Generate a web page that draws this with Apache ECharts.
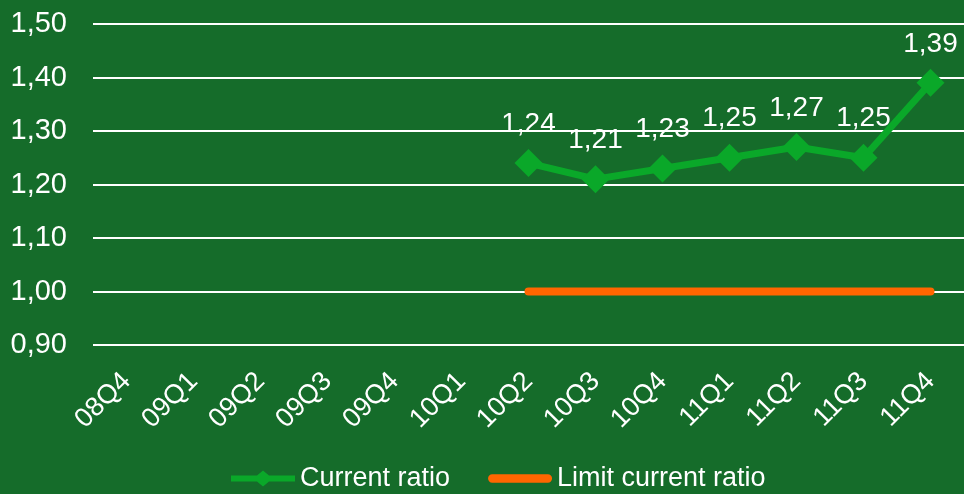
<!DOCTYPE html>
<html><head><meta charset="utf-8">
<script src="https://cdn.jsdelivr.net/npm/echarts@6/dist/echarts.min.js"></script>
<style>html,body{margin:0;padding:0;background:#156c2a;}#c{width:964px;height:494px;}</style>
</head><body><div id="c"></div>
<script>
var categories = ['08Q4','09Q1','09Q2','09Q3','09Q4','10Q1','10Q2','10Q3','10Q4','11Q1','11Q2','11Q3','11Q4'];
var currentRatio = [null,null,null,null,null,null,1.24,1.21,1.23,1.25,1.27,1.25,1.39];
var limitRatio = [null,null,null,null,null,null,1.00,1.00,1.00,1.00,1.00,1.00,1.00];
var yTicks = {min:0.9, max:1.5, interval:0.1};

var chart = echarts.init(document.getElementById('c'));
var fmt = function(v){ return Number(v).toFixed(2).replace('.', ','); };
var FF = 'Liberation Sans, Arial, sans-serif';
chart.setOption({
  backgroundColor:'#156c2a',
  textStyle:{fontFamily:FF},
  grid:{left:93, right:-3, top:24, bottom:149},
  legend:{
    bottom:-3, left:226, itemWidth:64, itemHeight:16, itemGap:38,
    textStyle:{color:'#fff', fontSize:27, fontFamily:FF},
    data:[{name:'Current ratio', icon:'path://M0,5 L26,5 L32,0 L38,5 L64,5 L64,11 L38,11 L32,16 L26,11 L0,11 Z'},
          {name:'Limit current ratio', icon:'path://M4,4 L58,4 A4,4 0 0 1 58,12 L4,12 A4,4 0 0 1 4,4 Z'}]
  },
  xAxis:{
    type:'category', data:categories, boundaryGap:true,
    axisLine:{show:false}, axisTick:{show:false},
    axisLabel:{color:'#fff', fontSize:27, rotate:45, margin:32, interval:0}
  },
  yAxis:{
    type:'value', min:yTicks.min, max:yTicks.max, interval:yTicks.interval,
    axisLine:{show:false}, axisTick:{show:false},
    splitLine:{lineStyle:{color:'#ffffff', width:2}},
    axisLabel:{color:'#fff', fontSize:29, margin:26, formatter:fmt}
  },
  series:[
    {name:'Current ratio', type:'line', data:currentRatio, color:'#0aa829',
     lineStyle:{width:7, color:'#0aa829'}, symbol:'diamond', symbolSize:28,
     itemStyle:{color:'#0aa829'}, z:3,
     label:{show:true, position:'top', distance:11, color:'#fff', fontSize:28, formatter:function(p){return fmt(p.value);}}
    },
    {name:'Limit current ratio', type:'line', data:limitRatio, color:'#ff6600',
     lineStyle:{width:8, color:'#ff6600', cap:'round'}, symbol:'none', itemStyle:{color:'#ff6600'}, z:2}
  ]
});
</script></body></html>
